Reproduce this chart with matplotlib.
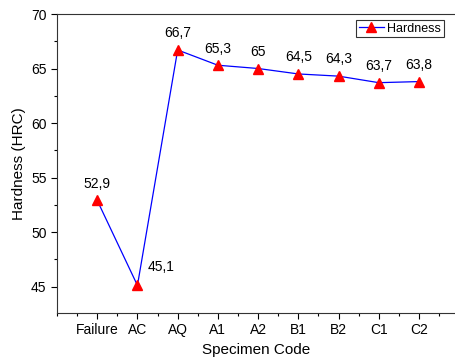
import matplotlib
matplotlib.use("Agg")
import matplotlib.pyplot as plt
from matplotlib.ticker import MultipleLocator

plt.rcParams['font.family'] = ['Liberation Sans', 'DejaVu Sans']

categories = ["Failure", "AC", "AQ", "A1", "A2", "B1", "B2", "C1", "C2"]
hardness = [52.9, 45.1, 66.7, 65.3, 65.0, 64.5, 64.3, 63.7, 63.8]
labels = ["52,9", "45,1", "66,7", "65,3", "65", "64,5", "64,3", "63,7", "63,8"]

fig = plt.figure(figsize=(4.56, 3.61), dpi=100)
ax = fig.add_axes([57/456, 48/361, (456-57)/456, (313-14)/361])

x = list(range(1, len(categories) + 1))
ax.plot(x, hardness, color='blue', lw=0.9, marker='^', markersize=7,
        markerfacecolor='red', markeredgecolor='red', label='Hardness')

for i, (xi, yi, lab) in enumerate(zip(x, hardness, labels)):
    if i == 1:
        ax.annotate(lab, (xi, yi), xytext=(7, 8), textcoords='offset points',
                    ha='left', va='bottom', fontsize=10)
    else:
        ax.annotate(lab, (xi, yi), xytext=(0, 7), textcoords='offset points',
                    ha='center', va='bottom', fontsize=10)

ax.set_xlim(0, 9.92)
ax.set_ylim(42.57, 70)
ax.set_xticks(x)
ax.set_xticklabels(categories)
ax.xaxis.set_minor_locator(MultipleLocator(0.5))
ax.yaxis.set_major_locator(MultipleLocator(5))
ax.yaxis.set_minor_locator(MultipleLocator(2.5))
ax.tick_params(which='major', direction='out', length=4, width=0.8, labelsize=10)
ax.tick_params(which='minor', direction='out', length=2.5, width=0.8)
ax.spines['right'].set_visible(False)
for s in ['left', 'bottom', 'top']:
    ax.spines[s].set_color('#333333')

ax.set_xlabel("Specimen Code", fontsize=11)
ax.set_ylabel("Hardness (HRC)", fontsize=11)

leg = ax.legend(loc='upper right', fontsize=9, frameon=True, fancybox=False,
                borderpad=0.2, handlelength=2.0, handletextpad=0.3,
                bbox_to_anchor=(0.985, 1.0))
leg.get_frame().set_edgecolor('black')
leg.get_frame().set_linewidth(0.8)

fig.savefig("out.png", dpi=100)
